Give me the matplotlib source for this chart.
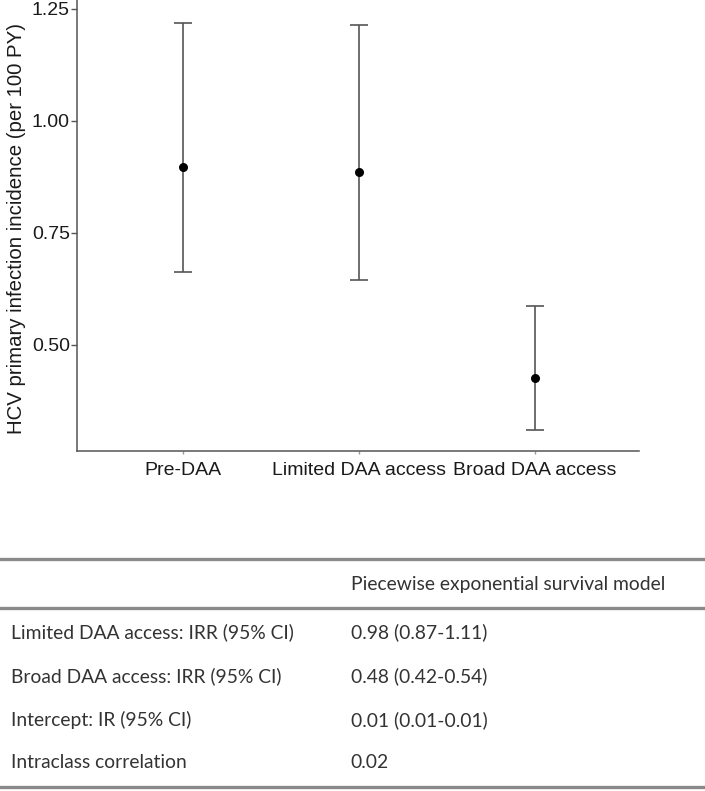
import matplotlib
matplotlib.use("Agg")
import matplotlib.pyplot as plt
from matplotlib.lines import Line2D

# ---- data ----
categories = ["Pre-DAA", "Limited DAA access", "Broad DAA access"]
incidence = [0.897, 0.885, 0.427]
ci_low = [0.663, 0.645, 0.311]
ci_high = [1.219, 1.214, 0.588]
y_ticks = [0.50, 0.75, 1.00, 1.25]
y_tick_labels = ["0.50", "0.75", "1.00", "1.25"]
y_label = "HCV primary infection incidence (per 100 PY)"

table_header = "Piecewise exponential survival model"
table_rows = ["Limited DAA access: IRR (95% CI)",
              "Broad DAA access: IRR (95% CI)",
              "Intercept: IR (95% CI)",
              "Intraclass correlation"]
table_values = ["0.98 (0.87-1.11)",
                "0.48 (0.42-0.54)",
                "0.01 (0.01-0.01)",
                "0.02"]

W, H = 705, 791
fig = plt.figure(figsize=(W / 100, H / 100), dpi=100)
ax = fig.add_axes([77.3 / W, 1 - 450.7 / H, (639 - 77.3) / W, 450.7 / H])

x = list(range(len(categories)))
err_lo = [m - l for m, l in zip(incidence, ci_low)]
err_hi = [h - m for m, h in zip(incidence, ci_high)]
ax.errorbar(x, incidence, yerr=[err_lo, err_hi], fmt="none",
            ecolor="#555555", elinewidth=1.2, capsize=6.2, capthick=1.2)
ax.scatter(x, incidence, s=30, color="black", zorder=3)

ax.set_xlim(-0.603, 2.592)
ax.set_ylim(0.264, 1.270)
ax.set_xticks(x)
ax.set_xticklabels(categories)
ax.set_yticks(y_ticks)
ax.set_yticklabels(y_tick_labels)

for s in ["top", "right"]:
    ax.spines[s].set_visible(False)
for s in ["left", "bottom"]:
    ax.spines[s].set_color("#555555")
    ax.spines[s].set_linewidth(1.1)

ax.tick_params(axis="y", length=4.3, width=1.0, color="#555555", pad=1,
               labelsize=14, labelcolor="#1a1a1a")
ax.tick_params(axis="x", length=2.2, width=1.0, color="#999999", pad=6,
               labelsize=14, labelcolor="#1a1a1a")
for lab in ax.get_xticklabels() + ax.get_yticklabels():
    lab.set_family("Liberation Sans")
ax.set_ylabel(y_label, fontsize=14.7, family="Liberation Sans", color="#1a1a1a")
ax.yaxis.set_label_coords(-(77.3 - 26.0) / (639 - 77.3), 1 - 228.5 / 450.7)

# ---- table ----
line_color = "#8a8a8a"
def hline(ypix):
    fig.add_artist(Line2D([0.0, 702.7 / W], [1 - ypix / H, 1 - ypix / H],
                          color=line_color, linewidth=2.4,
                          transform=fig.transFigure))

hline(559.3)
hline(607.7)
hline(787.0)

tfont = dict(family="Lato", fontsize=13.9, color="#333333", va="center")
fig.text(350.7 / W, 1 - 584.3 / H, table_header, ha="left", **tfont)
row_y = [632.7, 676.0, 720.0, 762.7]
for lab, val, yp in zip(table_rows, table_values, row_y):
    fig.text(11 / W, 1 - yp / H, lab, ha="left", **tfont)
    fig.text(350.7 / W, 1 - yp / H, val, ha="left", **tfont)

fig.savefig("out.png", dpi=100)
